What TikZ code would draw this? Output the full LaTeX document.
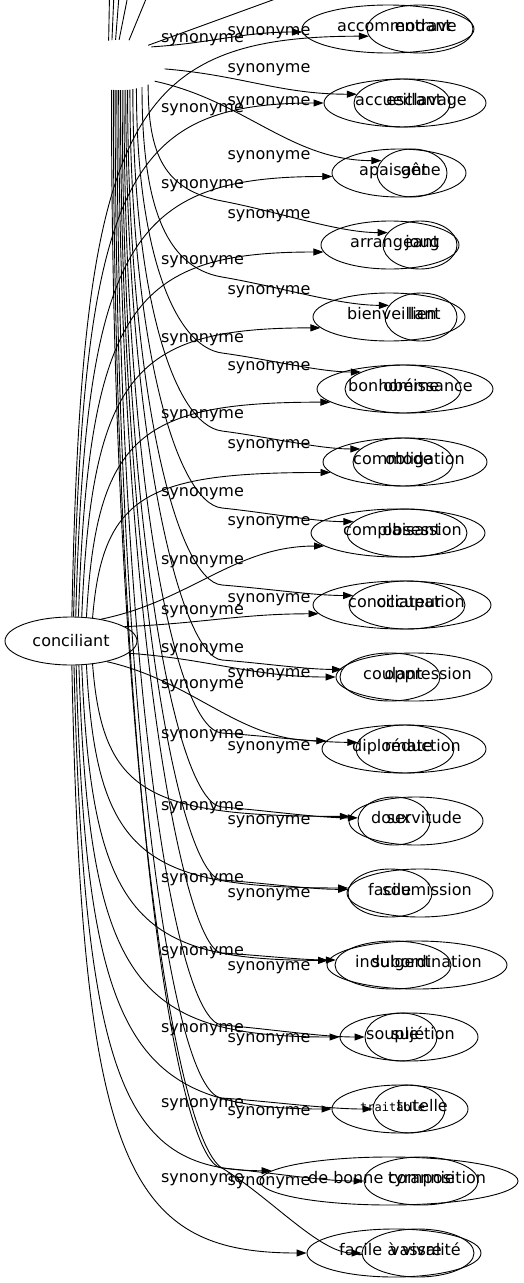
\documentclass[tikz,border=0pt]{standalone}
\usepackage{fontspec}
\setmainfont{DejaVu Sans}
\newfontfamily\monofont{DejaVu Sans Mono}
\usetikzlibrary{shapes.geometric,arrows.meta,calc}
\tikzset{
  ell/.style={draw, ellipse, line width=0.9pt, inner sep=0pt, minimum height=48pt},
  wordtxt/.style={font=\fontsize{16}{19}\selectfont, inner sep=0pt},
  lbl/.style={font=\fontsize{16}{19}\selectfont, inner sep=0pt, anchor=mid},
  edgeline/.style={line width=0.9pt, -{Triangle[length=10pt,width=7pt]}},
  plainline/.style={line width=0.9pt},
}
% S = start anchor, K = knee point, T = target anchor
\newcommand{\gvk}[3]{%
  \draw[edgeline] let \p1=(#1), \p2=(#2), \p3=(#3) in
   (\p1) .. controls (\x1,{\y1+0.6*(\y2-\y1)}) and ({\x2-0.35*(\x3-\x2)},{\y2-0.35*(\y3-\y2)}) .. (\p2)
   .. controls ({\x2+0.35*(\x3-\x2)},{\y2+0.35*(\y3-\y2)}) and ({\x3-0.3*(\x3-\x2)},\y3) .. (\p3);}
% direct edge for near targets
\newcommand{\gvs}[2]{%
  \draw[edgeline] let \p1=(#1), \p3=(#2) in
   (\p1) .. controls ({\x1+0.4*(\x3-\x1)},{\y1+0.25*(\y3-\y1)}) and ({\x3-0.4*(\x3-\x1)},\y3) .. (\p3);}
% far edge: rises (or falls) nearly vertically, then bends into the target
\newcommand{\gvf}[2]{%
  \draw[edgeline] let \p1=(#1), \p3=(#2) in
   (\p1) .. controls ({\x1+10},{\y1+0.85*(\y3-\y1)}) and ({\x1+55},\y3) .. (\p3);}
\begin{document}
\begin{tikzpicture}[x=1pt,y=1pt]
\useasboundingbox (0,0) rectangle (523,-1283);
\fill[white] (0,0) rectangle (523,-1283);
\clip (0,0) rectangle (523,-1283);

% hubs
\node[ell, minimum width=132pt, font=\fontsize{16}{19}\selectfont] (conc) at (71,-641) {conciliant};
\node[ellipse, minimum width=90pt, minimum height=50pt, inner sep=0pt] (hubB) at (120,-65) {};

% ellipses: large (L) and small (S)
\node[ell, minimum width=172pt] (eL1) at (388,-29) {};
\node[ell, minimum width=106pt] (eS1) at (420,-29) {};
\node[ell, minimum width=162pt] (eL2) at (405,-103) {};
\node[ell, minimum width=96pt]  (eS2) at (402,-103) {};
\node[ell, minimum width=134pt] (eL3) at (399,-173) {};
\node[ell, minimum width=70pt]  (eS3) at (412,-173) {};
\node[ell, minimum width=138pt] (eL4) at (390,-245) {};
\node[ell, minimum width=74pt]  (eS4) at (420,-245) {};
\node[ell, minimum width=152pt] (eL5) at (389,-317) {};
\node[ell, minimum width=72pt]  (eS5) at (421,-317) {};
\node[ell, minimum width=176pt] (eL6) at (405,-389) {};
\node[ell, minimum width=116pt] (eS6) at (403,-389) {};
\node[ell, minimum width=164pt] (eL7) at (405,-462) {};
\node[ell, minimum width=100pt] (eS7) at (403,-462) {};
\node[ell, minimum width=174pt] (eL8) at (398,-533) {};
\node[ell, minimum width=120pt] (eS8) at (407,-533) {};
\node[ell, minimum width=178pt] (eL9) at (402,-605) {};
\node[ell, minimum width=116pt] (eS9) at (407,-605) {};
\node[ell, minimum width=156pt] (eL10) at (414,-677) {};
\node[ell, minimum width=100pt] (eS10) at (390,-677) {};
\node[ell, minimum width=164pt] (eL11) at (404,-749) {};
\node[ell, minimum width=98pt]  (eS11) at (405,-749) {};
\node[ell, minimum width=134pt] (eL12) at (416,-821) {};
\node[ell, minimum width=72pt]  (eS12) at (394,-821) {};
\node[ell, minimum width=146pt] (eL13) at (420,-893) {};
\node[ell, minimum width=84pt]  (eS13) at (390,-893) {};
\node[ell, minimum width=180pt] (eL14) at (417,-965) {};
\node[ell, minimum width=116pt] (eS14) at (393,-965) {};
\node[ell, minimum width=138pt] (eL15) at (409,-1037) {};
\node[ell, minimum width=72pt]  (eS15) at (401,-1037) {};
\node[ell, minimum width=136pt] (eL16) at (400,-1109) {};
\node[ell, minimum width=72pt]  (eS16) at (409,-1109) {};
\node[ell, minimum width=258pt] (eL17) at (389,-1181) {};
\node[ell, minimum width=114pt] (eS17) at (421,-1181) {};
\node[ell, minimum width=174pt] (eL18) at (394,-1253) {};
\node[ell, minimum width=112pt] (eS18) at (418,-1253) {};

% words of the first graph (left anchored)
\node[wordtxt, anchor=mid west] (wa1) at (337,-29) {accommodant};
\node[wordtxt, anchor=mid west] (wa2) at (355,-103) {accueillant};
\node[wordtxt, anchor=mid west] (wa3) at (359,-173) {apaisant};
\node[wordtxt, anchor=mid west] (wa4) at (350,-245) {arrangeant};
\node[wordtxt, anchor=mid west] (wa5) at (347,-317) {bienveillant};
\node[wordtxt, anchor=mid west] (wa6) at (348,-389) {bonhomme};
\node[wordtxt, anchor=mid west] (wa7) at (353,-462) {commode};
\node[wordtxt, anchor=mid west] (wa8) at (343,-533) {complaisant};
\node[wordtxt, anchor=mid west] (wa9) at (348,-605) {conciliateur};
\node[wordtxt, anchor=mid west] (wa10) at (363,-677) {coulant};
\node[wordtxt, anchor=mid west] (wa11) at (352,-749) {diplomate};
\node[wordtxt, anchor=mid west] (wa12) at (371,-821) {doux};
\node[wordtxt, anchor=mid west] (wa13) at (368,-893) {facile};
\node[wordtxt, anchor=mid west] (wa14) at (355,-965) {indulgent};
\node[wordtxt, anchor=mid west] (wa15) at (366,-1037) {souple};
\node[inner sep=0pt, anchor=mid west, font=\monofont\fontsize{12}{14}\selectfont] (wa16) at (360,-1109) {traitable};
\node[wordtxt, anchor=mid west] (wa17) at (308,-1181) {de bonne composition};
\node[wordtxt, anchor=mid west] (wa18) at (339,-1253) {facile à vivre};

% words of the second graph (right anchored)
\node[wordtxt, anchor=mid east] (wb1) at (457,-29) {entrave};
\node[wordtxt, anchor=mid east] (wb2) at (467,-103) {esclavage};
\node[wordtxt, anchor=mid east] (wb3) at (441,-173) {gêne};
\node[wordtxt, anchor=mid east] (wb4) at (440,-245) {joug};
\node[wordtxt, anchor=mid east] (wb5) at (437,-317) {lien};
\node[wordtxt, anchor=mid east] (wb6) at (473,-389) {obéissance};
\node[wordtxt, anchor=mid east] (wb7) at (465,-462) {obligation};
\node[wordtxt, anchor=mid east] (wb8) at (462,-533) {obsession};
\node[wordtxt, anchor=mid east] (wb9) at (465,-605) {occupation};
\node[wordtxt, anchor=mid east] (wb10) at (472,-677) {oppression};
\node[wordtxt, anchor=mid east] (wb11) at (461,-749) {réduction};
\node[wordtxt, anchor=mid east] (wb12) at (462,-821) {servitude};
\node[wordtxt, anchor=mid east] (wb13) at (472,-893) {soumission};
\node[wordtxt, anchor=mid east] (wb14) at (482,-965) {subordination};
\node[wordtxt, anchor=mid east] (wb15) at (455,-1037) {sujétion};
\node[wordtxt, anchor=mid east] (wb16) at (448,-1109) {tutelle};
\node[wordtxt, anchor=mid east] (wb17) at (455,-1181) {tyrannie};
\node[wordtxt, anchor=mid east] (wb18) at (461,-1253) {vassalité};

% edge labels, first column
\foreach \i/\y in {1/40,2/110,3/186,4/262,5/340,6/416,7/494,8/562,9/612,10/650,11/686,12/736,13/808,14/880,15/953,16/1030,17/1105,18/1180}
  \node[lbl] (la\i) at (202.5,-\y) {synonyme};
% edge labels, second column
\foreach \i/\y in {1/33,2/70,3/103,4/157,5/216,6/292,7/368,8/446,9/523,10/600,11/675,12/748,13/822,14/895,15/968,16/1040,17/1113,18/1183}
  \node[lbl] (lb\i) at (269,-\y) {synonyme};

% edges from conciliant
\gvf{conc.88}{eS1.188}
\gvf{conc.84}{eL2.180}
\gvf{conc.79}{eL3.183}
\gvf{conc.73}{eL4.186}
\gvf{conc.66}{eL5.189}
\gvf{conc.57}{eL6.190}
\gvf{conc.47}{eL7.188}
\gvs{conc.36}{eL8.190}
\gvs{conc.15}{eL9.186}
\gvs{conc.-12}{eL10.180}
\gvs{conc.-30}{eL11.174}
\gvf{conc.-47}{eL12.176}
\gvf{conc.-57}{eL13.176}
\gvf{conc.-66}{eL14.177}
\gvf{conc.-72}{eL15.180}
\gvf{conc.-78}{eL16.180}
\gvf{conc.-83}{eL17.175}
\gvf{conc.-88}{eL18.180}

% edges from the upper hub
\gvs{hubB.30}{eL1.182}
\gvs{hubB.-5}{eS2.169}
\gvs{hubB.-25}{eS3.158}
\gvk{hubB.-35}{222,-201}{eS4.159}
\gvk{hubB.-45}{222,-277}{eS5.160}
\gvk{hubB.-55}{222,-353}{eS6.158}
\gvk{hubB.-62}{222,-431}{eS7.163}
\gvk{hubB.-68}{222,-508}{eS8.168}
\gvk{hubB.-73}{222,-585}{eS9.170}
\gvk{hubB.-77}{222,-660}{eS10.171}
\gvk{hubB.-81}{222,-733}{eS11.172}
\gvk{hubB.-85}{222,-807}{eS12.175}
\gvk{hubB.-89}{222,-880}{eS13.175}
\gvk{hubB.-93}{222,-953}{eS14.175}
\gvk{hubB.-97}{222,-1025}{eS15.180}
\gvk{hubB.-101}{222,-1098}{eS16.180}
\gvk{hubB.-105}{222,-1168}{eS17.180}
\gvk{hubB.-109}{222,-1168}{eS18.180}

% edges leaving the frame upward
\coordinate (up1) at (110,30);
\coordinate (up2) at (115,30);
\coordinate (up3) at (121,30);
\coordinate (up4) at (133,30);
\coordinate (up5) at (158,30);
\coordinate (up6) at (355,30);
\draw[plainline] (hubB.115) -- (up1);
\draw[plainline] (hubB.108) -- (up2);
\draw[plainline] (hubB.100) -- (up3);
\draw[plainline] (hubB.92) -- (up4);
\draw[plainline] (hubB.70) -- (up5);
\draw[plainline] (hubB.35) -- (up6);
\end{tikzpicture}
\end{document}
